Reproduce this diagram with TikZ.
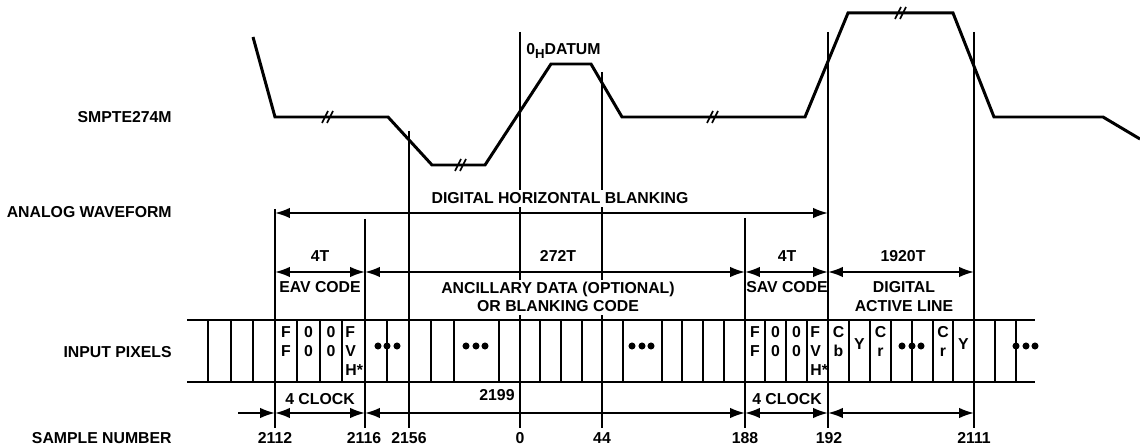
\documentclass[tikz,border=0pt]{standalone}
\usepackage{fontspec}
\setmainfont{Liberation Sans}
\usetikzlibrary{arrows.meta,positioning,calc}

% break mark on the waveform
\tikzset{brk/.pic={\draw[line width=0.9pt] (-5,6) -- (1,-6) (0,6) -- (6,-6);}}

\begin{document}
\begin{tikzpicture}[x=0.02cm,y=-0.02cm,
    lbl/.style={font=\fontsize{9}{10}\selectfont\bfseries,inner sep=0pt,anchor=base},
    rowlbl/.style={lbl,anchor=base east},
    knock/.style={lbl,fill=white,inner ysep=1.5pt,inner xsep=1pt},
    wave/.style={line width=1.7pt,line join=miter},
    guide/.style={line width=0.6pt},
    band/.style={line width=1.5pt},
    cell/.style={line width=0.9pt},
    dimarrow/.style={{Latex[length=8.5pt,width=6pt]}-{Latex[length=8.5pt,width=6pt]},line width=1.1pt},
    feed/.style={-{Latex[length=8.5pt,width=6pt]},line width=1.1pt}
]
\useasboundingbox (0,0) rectangle (1140,445);

% row labels
\node[rowlbl] (smpte) at (172,123) {SMPTE274M};
\node[rowlbl] (analog) at (172,218) {ANALOG WAVEFORM};
\node[rowlbl] (pixels) at (172,358) {INPUT PIXELS};
\node[rowlbl] (sample) at (172,444) {SAMPLE NUMBER};

% waveform
\draw[wave] (253,37) -- (275,117) -- (388,117) -- (432,165) -- (485,165) -- (551,64)
  -- (591,64) -- (622,117) -- (805,117) -- (848,13) -- (953,13) -- (994,117)
  -- (1103,117) -- (1140,139);
\pic at (327,117) {brk};
\pic at (460,165) {brk};
\pic at (712,117) {brk};
\pic at (900,13) {brk};
\node[lbl,anchor=base west] (datum) at (526,55) {0\raisebox{-0.45ex}{\fontsize{7.5}{8}\selectfont H}DATUM};

% timing marks
\foreach \n/\x/\t in {eav/275/209,anc/365/219,s2156/409/131,dat/520/32,s44/602/72,sav/745/218,act/828/32,fin/974/32}{
  \coordinate (top\n) at (\x,\t);
  \coordinate (bot\n) at (\x,428);
  \coordinate (up\n) at (\x,272);
  \coordinate (lo\n) at (\x,413);
  \draw[guide] (top\n) -- (bot\n);
}

% blanking
\coordinate (dhl) at (275,213);
\coordinate (dhr) at (828,213);
\draw[dimarrow] (dhl) -- (dhr);
\node[knock] (dhb) at (560,204) {DIGITAL HORIZONTAL BLANKING};

% word counts
\draw[dimarrow] (upeav) -- (upanc);
\draw[dimarrow] (upanc) -- (upsav);
\draw[dimarrow] (upsav) -- (upact);
\draw[dimarrow] (upact) -- (upfin);
\node[lbl] (eavt) at (320,262) {4T};
\node[lbl] (anct) at (558,262) {272T};
\node[lbl] (savt) at (787,262) {4T};
\node[lbl] (actt) at (903,262) {1920T};
\node[lbl] (eavcode) at (320,293) {EAV CODE};
\node[knock] (ancone) at (558,294) {ANCILLARY DATA (OPTIONAL)};
\node[knock] (anctwo) at (558,312) {OR BLANKING CODE};
\node[lbl] (savcode) at (787,293) {SAV CODE};
\node[lbl] (actone) at (904,293) {DIGITAL};
\node[lbl] (acttwo) at (904,312) {ACTIVE LINE};

% pixel band
\draw[band] (187,320) -- (1035,320);
\draw[band] (187,382) -- (1035,382);
\foreach \x in {208,231,253,275,297,320,342,365,387,409,431,454,499,520,540,561,582,602,
  623,662,682,703,724,745,765,786,807,828,849,870,891,912,933,953,974,995,1016}
  \draw[cell] (\x,320) -- (\x,382);
\foreach \x in {378,387,397,466,476,485,632,642,651,902,912,921,1016,1026,1035}
  \fill (\x,346) circle (2pt);

% codes in the cells
\foreach \x/\a/\b [count=\i] in {286/F/F,308.5/0/0,331/0/0,755/F/F,775.5/0/0,796.5/0/0,838.5/C/b,880.5/C/r,943/C/r}{
  \node[lbl] (ca\i) at (\x,338) {\a};
  \node[lbl] (cb\i) at (\x,357) {\b};
}
\foreach \x [count=\i] in {345,810}{
  \node[lbl,anchor=base west] (fa\i) at (\x,338) {F};
  \node[lbl,anchor=base west] (fb\i) at (\x,357) {V};
  \node[lbl,anchor=base west] (fc\i) at (\x,376) {H*};
}
\node[lbl] (yone) at (859.5,350) {Y};
\node[lbl] (ytwo) at (963.5,350) {Y};

% clocks
\coordinate (feedin) at (238,413);
\draw[feed] (feedin) -- (loeav);
\draw[dimarrow] (loeav) -- (loanc);
\draw[dimarrow] (loanc) -- (losav);
\draw[dimarrow] (losav) -- (loact);
\draw[dimarrow] (loact) -- (lofin);
\node[lbl] (clkeav) at (320,405) {4 CLOCK};
\node[lbl] (clksav) at (787,405) {4 CLOCK};
\node[lbl] (n2199) at (497,401) {2199};

% sample numbers
\foreach \x/\t in {275/2112,364/2116,409/2156,520/0,602/44,745/188,829/192,974/2111}
  \node[lbl] (num\t) at (\x,444) {\t};
\end{tikzpicture}
\end{document}
